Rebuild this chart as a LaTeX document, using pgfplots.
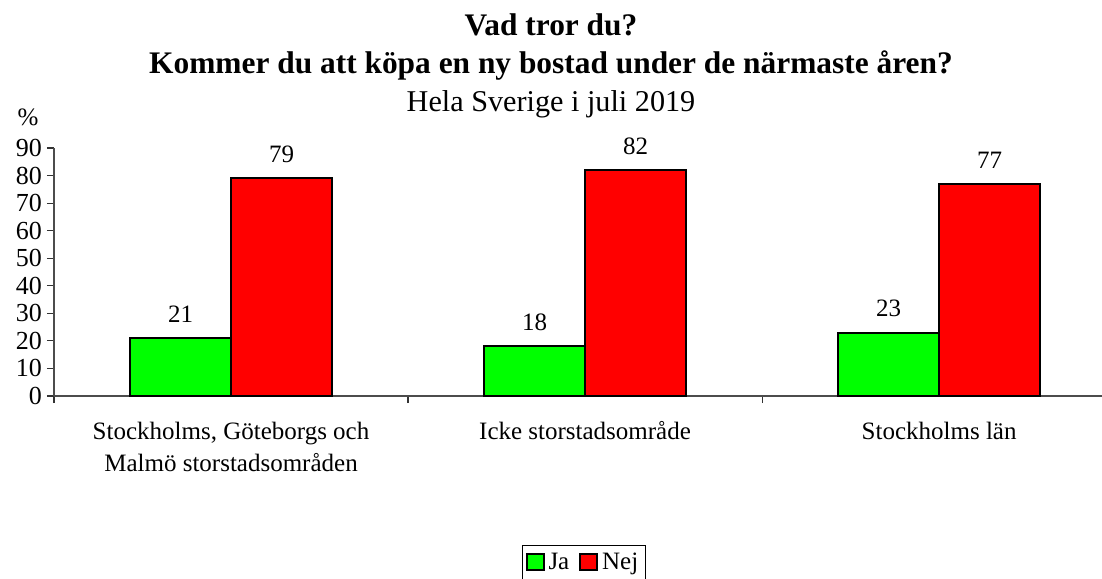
\documentclass[border=0pt]{standalone}
\usepackage{fontspec}
\setmainfont{Liberation Serif}
\usepackage{pgfplots}
\pgfplotsset{compat=1.18}
\definecolor{jagreen}{HTML}{00FF00}
\definecolor{nejred}{HTML}{FF0000}
\begin{document}
\begin{tikzpicture}
\path[use as bounding box] (-27pt,-91pt) rectangle (524pt,198pt);
\begin{axis}[
  at={(0pt,0pt)}, anchor=south west,
  width=524pt, height=124pt, scale only axis,
  ybar=0pt, bar width=50.5pt,
  ymin=0, ymax=90, xmin=-0.5, xmax=2.46,
  ytick={0,10,...,90},
  xtick={-0.5,0.5,1.5}, xticklabels={},
  extra x ticks={0,1,2},
  extra x tick labels={{\strut Stockholms, Göteborgs och\\\strut Malmö storstadsområden},{\strut Icke storstadsområde},{\strut Stockholms län}},
  extra x tick style={major tick length=0pt},
  x tick label style={align=center, font=\fontsize{12.5}{16}\selectfont},
  y tick label style={font=\fontsize{13}{15}\selectfont, xshift=1pt},
  /pgf/number format/assume math mode=true,
  axis x line*=bottom, axis y line*=left,
  axis line style={draw=black!70, line width=0.6pt},
  tick align=outside, major tick length=3.5pt,
  tick style={draw=black!80, line width=0.6pt},
  xticklabel style={yshift=-7pt},
  nodes near coords,
  nodes near coords style={font=\fontsize{12.5}{15}\selectfont, yshift=4pt},
  legend columns=2,
  legend style={at={(0.5057,-0.601)}, anchor=north, draw=black, line width=0.5pt,
    font=\fontsize{12.5}{15}\selectfont, inner sep=1.5pt,
    /tikz/every even column/.append style={column sep=3pt}},
  legend image code/.code={\draw[#1, draw=black, line width=0.9pt] (0pt,-4pt) rectangle (8.5pt,4pt);},
]
\addplot[fill=jagreen, draw=black, line width=1pt] coordinates {(0,21) (1,18) (2,23)};
\addplot[fill=nejred, draw=black, line width=1pt] coordinates {(0,79) (1,82) (2,77)};
\legend{Ja,Nej}
\end{axis}
\node[anchor=base, font=\fontsize{15.7}{18}\selectfont\bfseries] at (248.5pt,180pt) {Vad tror du?};
\node[anchor=base, font=\fontsize{15.7}{18}\selectfont\bfseries] at (248.5pt,161pt) {Kommer du att köpa en ny bostad under de närmaste åren?};
\node[anchor=base, font=\fontsize{15.1}{18}\selectfont] at (248.5pt,142pt) {Hela Sverige i juli 2019};
\node[font=\fontsize{12.5}{15}\selectfont] at (-13pt,139.5pt) {\%};
\end{tikzpicture}
\end{document}
